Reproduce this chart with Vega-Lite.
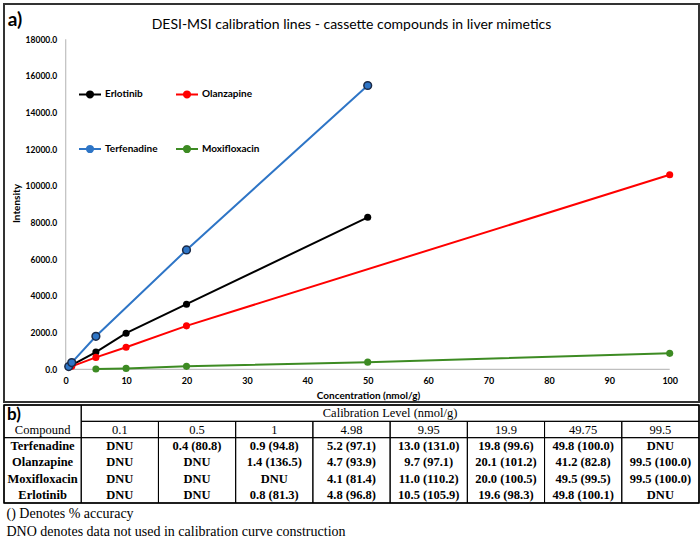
{
  "$schema": "https://vega.github.io/schema/vega-lite/v6.json",
  "padding": {"left": 2, "top": 3, "right": 0, "bottom": 0},
  "background": "white",
  "spacing": 0,
  "title": {"text": "a)", "anchor": "start", "font": "Lato", "fontSize": 19, "fontWeight": "bold", "color": "#000", "offset": -27, "dx": 5},
  "datasets": {
    "curves": [
      {"compound": "Terfenadine", "conc": 0.5, "intensity": 150},
      {"compound": "Terfenadine", "conc": 1, "intensity": 370},
      {"compound": "Terfenadine", "conc": 5, "intensity": 1800},
      {"compound": "Terfenadine", "conc": 20, "intensity": 6510},
      {"compound": "Terfenadine", "conc": 50, "intensity": 15480},
      {"compound": "Erlotinib", "conc": 1, "intensity": 230},
      {"compound": "Erlotinib", "conc": 5, "intensity": 940},
      {"compound": "Erlotinib", "conc": 10, "intensity": 1970},
      {"compound": "Erlotinib", "conc": 20, "intensity": 3550},
      {"compound": "Erlotinib", "conc": 50, "intensity": 8290},
      {"compound": "Olanzapine", "conc": 1, "intensity": 160},
      {"compound": "Olanzapine", "conc": 5, "intensity": 650},
      {"compound": "Olanzapine", "conc": 10, "intensity": 1200},
      {"compound": "Olanzapine", "conc": 20, "intensity": 2370},
      {"compound": "Olanzapine", "conc": 100, "intensity": 10610},
      {"compound": "Moxifloxacin", "conc": 5, "intensity": 20},
      {"compound": "Moxifloxacin", "conc": 10, "intensity": 50},
      {"compound": "Moxifloxacin", "conc": 20, "intensity": 160},
      {"compound": "Moxifloxacin", "conc": 50, "intensity": 390},
      {"compound": "Moxifloxacin", "conc": 100, "intensity": 870}
    ],
    "cells": [
      {"c0": 0, "c1": 1, "r0": 0, "r1": 2},
      {"c0": 1, "c1": 9, "r0": 0, "r1": 1},
      {"c0": 1, "c1": 2, "r0": 1, "r1": 2},
      {"c0": 2, "c1": 3, "r0": 1, "r1": 2},
      {"c0": 3, "c1": 4, "r0": 1, "r1": 2},
      {"c0": 4, "c1": 5, "r0": 1, "r1": 2},
      {"c0": 5, "c1": 6, "r0": 1, "r1": 2},
      {"c0": 6, "c1": 7, "r0": 1, "r1": 2},
      {"c0": 7, "c1": 8, "r0": 1, "r1": 2},
      {"c0": 8, "c1": 9, "r0": 1, "r1": 2},
      {"c0": 0, "c1": 1, "r0": 2, "r1": 6},
      {"c0": 1, "c1": 2, "r0": 2, "r1": 6},
      {"c0": 2, "c1": 3, "r0": 2, "r1": 6},
      {"c0": 3, "c1": 4, "r0": 2, "r1": 6},
      {"c0": 4, "c1": 5, "r0": 2, "r1": 6},
      {"c0": 5, "c1": 6, "r0": 2, "r1": 6},
      {"c0": 6, "c1": 7, "r0": 2, "r1": 6},
      {"c0": 7, "c1": 8, "r0": 2, "r1": 6},
      {"c0": 8, "c1": 9, "r0": 2, "r1": 6}
    ],
    "header": [
      {"row": "B", "col": "Compound", "label": "Compound"},
      {"row": "B", "col": "0.1", "label": "0.1"},
      {"row": "B", "col": "0.5", "label": "0.5"},
      {"row": "B", "col": "1", "label": "1"},
      {"row": "B", "col": "4.98", "label": "4.98"},
      {"row": "B", "col": "9.95", "label": "9.95"},
      {"row": "B", "col": "19.9", "label": "19.9"},
      {"row": "B", "col": "49.75", "label": "49.75"},
      {"row": "B", "col": "99.5", "label": "99.5"}
    ],
    "body": [
      {"row": "Terfenadine", "col": "Compound", "label": "Terfenadine"},
      {"row": "Terfenadine", "col": "0.1", "label": "DNU"},
      {"row": "Terfenadine", "col": "0.5", "label": "0.4 (80.8)"},
      {"row": "Terfenadine", "col": "1", "label": "0.9 (94.8)"},
      {"row": "Terfenadine", "col": "4.98", "label": "5.2 (97.1)"},
      {"row": "Terfenadine", "col": "9.95", "label": "13.0 (131.0)"},
      {"row": "Terfenadine", "col": "19.9", "label": "19.8 (99.6)"},
      {"row": "Terfenadine", "col": "49.75", "label": "49.8 (100.0)"},
      {"row": "Terfenadine", "col": "99.5", "label": "DNU"},
      {"row": "Olanzapine", "col": "Compound", "label": "Olanzapine"},
      {"row": "Olanzapine", "col": "0.1", "label": "DNU"},
      {"row": "Olanzapine", "col": "0.5", "label": "DNU"},
      {"row": "Olanzapine", "col": "1", "label": "1.4 (136.5)"},
      {"row": "Olanzapine", "col": "4.98", "label": "4.7 (93.9)"},
      {"row": "Olanzapine", "col": "9.95", "label": "9.7 (97.1)"},
      {"row": "Olanzapine", "col": "19.9", "label": "20.1 (101.2)"},
      {"row": "Olanzapine", "col": "49.75", "label": "41.2 (82.8)"},
      {"row": "Olanzapine", "col": "99.5", "label": "99.5 (100.0)"},
      {"row": "Moxifloxacin", "col": "Compound", "label": "Moxifloxacin"},
      {"row": "Moxifloxacin", "col": "0.1", "label": "DNU"},
      {"row": "Moxifloxacin", "col": "0.5", "label": "DNU"},
      {"row": "Moxifloxacin", "col": "1", "label": "DNU"},
      {"row": "Moxifloxacin", "col": "4.98", "label": "4.1 (81.4)"},
      {"row": "Moxifloxacin", "col": "9.95", "label": "11.0 (110.2)"},
      {"row": "Moxifloxacin", "col": "19.9", "label": "20.0 (100.5)"},
      {"row": "Moxifloxacin", "col": "49.75", "label": "49.5 (99.5)"},
      {"row": "Moxifloxacin", "col": "99.5", "label": "99.5 (100.0)"},
      {"row": "Erlotinib", "col": "Compound", "label": "Erlotinib"},
      {"row": "Erlotinib", "col": "0.1", "label": "DNU"},
      {"row": "Erlotinib", "col": "0.5", "label": "DNU"},
      {"row": "Erlotinib", "col": "1", "label": "0.8 (81.3)"},
      {"row": "Erlotinib", "col": "4.98", "label": "4.8 (96.8)"},
      {"row": "Erlotinib", "col": "9.95", "label": "10.5 (105.9)"},
      {"row": "Erlotinib", "col": "19.9", "label": "19.6 (98.3)"},
      {"row": "Erlotinib", "col": "49.75", "label": "49.8 (100.1)"},
      {"row": "Erlotinib", "col": "99.5", "label": "DNU"}
    ],
    "span": [
      {"row": "A", "col": "9.95", "label": "Calibration Level (nmol/g)"}
    ],
    "panel": [
      {"row": "A", "col": "Compound", "label": "b)"}
    ]
  },
  "vconcat": [
    {
      "width": 695,
      "height": 398,
      "view": {"stroke": "#333", "strokeWidth": 2},
      "title": {"text": "DESI-MSI calibration lines - cassette compounds in liver mimetics", "font": "Lato", "fontSize": 14, "fontWeight": "normal", "color": "#000", "anchor": "middle", "offset": -28},
      "layer": [
        {
          "data": {"values": [{}]},
          "mark": {"type": "rule", "color": "#bfbfbf", "strokeWidth": 1.2},
          "encoding": {
            "x": {"datum": 0, "type": "quantitative"},
            "x2": {"datum": 100},
            "y": {"datum": 0, "type": "quantitative"}
          }
        },
        {
          "data": {"values": [{}]},
          "mark": {"type": "rule", "color": "#bfbfbf", "strokeWidth": 1.2},
          "encoding": {
            "x": {"datum": 0, "type": "quantitative"},
            "y": {"datum": 0, "type": "quantitative"},
            "y2": {"datum": 18000}
          }
        },
        {
          "data": {"name": "curves"},
          "encoding": {
            "x": {
              "field": "conc", "type": "quantitative",
              "scale": {"domain": [-10.215, 104.85], "nice": false, "zero": false},
              "axis": {"title": "Concentration (nmol/g)", "values": [0, 10, 20, 30, 40, 50, 60, 70, 80, 90, 100], "offset": -32.7, "domain": false, "ticks": false, "grid": false, "labelOverlap": false, "labelFlush": false, "labelFont": "Lato", "labelFontSize": 9, "labelFontWeight": "bold", "labelColor": "#000", "labelPadding": 7, "titleFont": "Lato", "titleFontSize": 10, "titleFontWeight": "bold", "titleColor": "#000", "titleX": 364, "titlePadding": 5}
            },
            "y": {
              "field": "intensity", "type": "quantitative",
              "scale": {"domain": [-1783.6, 19925.5], "nice": false, "zero": false},
              "axis": {"title": "Intensity", "values": [0, 2000, 4000, 6000, 8000, 10000, 12000, 14000, 16000, 18000], "format": ".1f", "offset": -61.7, "domain": false, "ticks": false, "grid": false, "labelOverlap": false, "labelFont": "Lato", "labelFontSize": 8.5, "labelFontWeight": "bold", "labelColor": "#000", "labelPadding": 9, "titleFont": "Lato", "titleFontSize": 10, "titleFontWeight": "bold", "titleColor": "#000", "titlePadding": 4}
            },
            "color": {
              "field": "compound", "type": "nominal",
              "scale": {"domain": ["Erlotinib", "Olanzapine", "Terfenadine", "Moxifloxacin"], "range": ["#000000", "#ff0000", "#2e75c6", "#3d8b23"]},
              "legend": {
                "orient": "none", "direction": "horizontal", "legendX": 74, "legendY": 78, "columns": 2, "title": null, "padding": 0,
                "symbolType": "M-1,0L1,0M-0.28,0A0.28,0.28 0 1,1 0.28,0A0.28,0.28 0 1,1 -0.28,0Z",
                "symbolSize": 484, "symbolStrokeWidth": 2,
                "labelFont": "Lato", "labelFontSize": 10, "labelFontWeight": "bold", "labelColor": "#000", "labelOffset": 3,
                "rowPadding": 35, "columnPadding": 14,
                "encode": {"symbols": {"update": {"fill": {"scale": "color", "field": "value"}, "stroke": {"scale": "color", "field": "value"}, "opacity": {"value": 1}}}}
              }
            }
          },
          "layer": [
            {"mark": {"type": "line", "strokeWidth": 2}},
            {
              "transform": [{"filter": "datum.compound !== 'Terfenadine'"}],
              "mark": {"type": "point", "filled": true, "size": 50, "opacity": 1}
            },
            {
              "transform": [{"filter": "datum.compound === 'Terfenadine'"}],
              "mark": {"type": "point", "filled": true, "size": 60, "opacity": 1, "stroke": "#1b2a47", "strokeWidth": 1.5}
            }
          ]
        }
      ]
    },
    {
      "width": 695,
      "height": 98,
      "view": {"stroke": "#000", "strokeWidth": 1.5},
      "title": {"text": ["() Denotes % accuracy", "DNO denotes data not used in calibration curve construction"], "orient": "bottom", "anchor": "start", "font": "Liberation Serif", "fontSize": 14, "fontWeight": "normal", "color": "#000", "lineHeight": 18, "offset": 3, "dx": 3},
      "resolve": {"scale": {"x": "independent", "y": "independent"}},
      "layer": [
        {
          "data": {"name": "cells"},
          "mark": {"type": "rect", "filled": false, "color": "#000", "strokeWidth": 1},
          "encoding": {
            "x": {"field": "c0", "type": "quantitative", "scale": {"domain": [0, 9], "nice": false, "zero": false}, "axis": null},
            "x2": {"field": "c1"},
            "y": {"field": "r0", "type": "quantitative", "scale": {"domain": [0, 6], "nice": false, "zero": false, "reverse": true}, "axis": null},
            "y2": {"field": "r1"}
          }
        },
        {
          "data": {"name": "header"},
          "mark": {"type": "text", "font": "Liberation Serif", "fontSize": 12.5, "color": "#000", "baseline": "middle"},
          "encoding": {
            "x": {"field": "col", "type": "ordinal", "scale": {"type": "band", "domain": ["Compound", "0.1", "0.5", "1", "4.98", "9.95", "19.9", "49.75", "99.5"], "paddingInner": 0, "paddingOuter": 0}, "axis": null},
            "y": {"field": "row", "type": "ordinal", "scale": {"type": "band", "domain": ["A", "B", "Terfenadine", "Olanzapine", "Moxifloxacin", "Erlotinib"], "paddingInner": 0, "paddingOuter": 0}, "axis": null},
            "text": {"field": "label"}
          }
        },
        {
          "data": {"name": "body"},
          "mark": {"type": "text", "font": "Liberation Serif", "fontSize": 12.5, "fontWeight": "bold", "color": "#000", "baseline": "middle"},
          "encoding": {
            "x": {"field": "col", "type": "ordinal", "scale": {"type": "band", "domain": ["Compound", "0.1", "0.5", "1", "4.98", "9.95", "19.9", "49.75", "99.5"], "paddingInner": 0, "paddingOuter": 0}, "axis": null},
            "y": {"field": "row", "type": "ordinal", "scale": {"type": "band", "domain": ["A", "B", "Terfenadine", "Olanzapine", "Moxifloxacin", "Erlotinib"], "paddingInner": 0, "paddingOuter": 0}, "axis": null},
            "text": {"field": "label"}
          }
        },
        {
          "data": {"name": "span"},
          "mark": {"type": "text", "font": "Liberation Serif", "fontSize": 12.5, "color": "#000", "baseline": "middle", "align": "center"},
          "encoding": {
            "x": {"field": "col", "type": "ordinal", "bandPosition": 0, "scale": {"type": "band", "domain": ["Compound", "0.1", "0.5", "1", "4.98", "9.95", "19.9", "49.75", "99.5"], "paddingInner": 0, "paddingOuter": 0}, "axis": null},
            "y": {"field": "row", "type": "ordinal", "scale": {"type": "band", "domain": ["A", "B", "Terfenadine", "Olanzapine", "Moxifloxacin", "Erlotinib"], "paddingInner": 0, "paddingOuter": 0}, "axis": null},
            "text": {"field": "label"}
          }
        },
        {
          "data": {"name": "panel"},
          "mark": {"type": "text", "font": "Lato", "fontSize": 17, "fontWeight": "bold", "color": "#000", "baseline": "middle", "align": "left", "dx": 3, "dy": 2},
          "encoding": {
            "x": {"field": "col", "type": "ordinal", "bandPosition": 0, "scale": {"type": "band", "domain": ["Compound", "0.1", "0.5", "1", "4.98", "9.95", "19.9", "49.75", "99.5"], "paddingInner": 0, "paddingOuter": 0}, "axis": null},
            "y": {"field": "row", "type": "ordinal", "scale": {"type": "band", "domain": ["A", "B", "Terfenadine", "Olanzapine", "Moxifloxacin", "Erlotinib"], "paddingInner": 0, "paddingOuter": 0}, "axis": null},
            "text": {"field": "label"}
          }
        }
      ]
    }
  ]
}
